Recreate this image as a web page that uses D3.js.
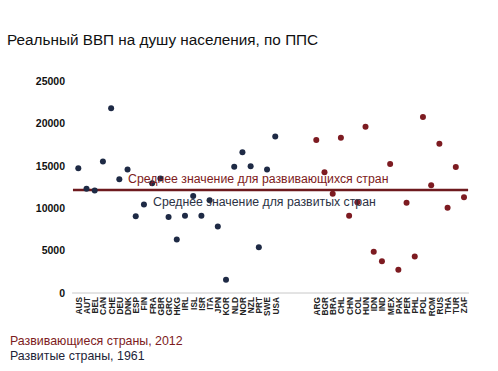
<!DOCTYPE html>
<html>
<head>
<meta charset="utf-8">
<script src="https://cdn.jsdelivr.net/npm/d3@7"></script>
<style>
  body { margin: 0; background: #fff; }
  svg { font-family: "Liberation Sans", Arial, sans-serif; }
  .yaxis text { font-weight: bold; font-size: 10.5px; fill: #111; }
  .xaxis text { font-weight: bold; font-size: 8.3px; fill: #222; }
</style>
</head>
<body>
<div id="vis"></div>
<script>
var developedCodes = ["AUS","AUT","BEL","CAN","CHE","DEU","DNK","ESP","FIN","FRA","GBR","GRC","HKG",
    "IRL","ISL","ISR","ITA","JPN","KOR","NLD","NOR","NZL","PRT","SWE","USA"];
var developedValues = [14700,12300,12100,15500,21800,13400,14550,9050,10450,12950,13500,8950,6300,
    9100,11450,9100,10950,7850,1550,14900,16600,14950,5400,14550,18450];

var developingCodes = ["ARG","BGR","BRA","CHL","CHN","COL","HUN","IDN","IND","MEX","PAK","PER","PHL",
    "POL","ROM","RUS","THA","TUR","ZAF"];
var developingValues = [18050,14250,11700,18300,9100,10700,19600,4850,3750,15200,2750,10650,4300,
    20750,12700,17600,10050,14850,11300];

var yTicks = [0, 5000, 10000, 15000, 20000, 25000];
var meanValue = 12150;

var width = 498, height = 371;
var red = "#7d1b21", navy = "#1e2a45";

var svg = d3.select("#vis").append("svg")
    .attr("width", width)
    .attr("height", height);

// 4 blank slots between the two groups
var gap = ["_1","_2","_3","_4"];
var domain = developedCodes.concat(gap, developingCodes);

var xScale = d3.scalePoint().domain(domain).range([78.3, 464]);
var yScale = d3.scaleLinear().domain([0, 25000]).range([293, 81]);
var step = xScale.step();

svg.append("text")
    .attr("x", 7).attr("y", 45)
    .style("font-size", "15.3px")
    .style("fill", "#111")
    .text("Реальный ВВП на душу населения, по ППС");

var yAxis = d3.axisLeft(yScale).tickValues(yTicks).tickSize(0).tickPadding(0).tickFormat(d3.format("d"));
svg.append("g").attr("class", "yaxis")
    .attr("transform", "translate(65,0)")
    .call(yAxis)
    .call(function(g) { g.select(".domain").remove(); });

var xAxis = d3.axisBottom(xScale)
    .tickValues(developedCodes.concat(developingCodes))
    .tickSize(0).tickPadding(0);
var xg = svg.append("g").attr("class", "xaxis")
    .attr("transform", "translate(0,293)")
    .call(xAxis);
xg.select(".domain").remove();
xg.selectAll("text")
    .attr("transform", "rotate(-90)")
    .attr("x", -4).attr("y", 0).attr("dy", "0.35em")
    .style("text-anchor", "end");

svg.append("line")
    .attr("x1", xScale(domain[0]) - step * 0.75)
    .attr("x2", xScale(domain[domain.length - 1]) + step * 0.6)
    .attr("y1", yScale(0)).attr("y2", yScale(0))
    .attr("stroke", "#c8c8c8").attr("stroke-width", 1);

// mean line
svg.append("line")
    .attr("x1", xScale(domain[0]) - step * 0.65)
    .attr("x2", xScale(domain[domain.length - 1]) + step * 0.5)
    .attr("y1", yScale(meanValue)).attr("y2", yScale(meanValue))
    .attr("stroke", "#6e1a1e").attr("stroke-width", 2.5);

svg.append("g").selectAll("circle.dev")
    .data(developedCodes)
    .enter().append("circle")
    .attr("cx", function(d) { return xScale(d); })
    .attr("cy", function(d, i) { return yScale(developedValues[i]); })
    .attr("r", 3)
    .attr("fill", navy);

svg.append("g").selectAll("circle.emg")
    .data(developingCodes)
    .enter().append("circle")
    .attr("cx", function(d) { return xScale(d); })
    .attr("cy", function(d, i) { return yScale(developingValues[i]); })
    .attr("r", 3)
    .attr("fill", red);

svg.append("text")
    .attr("x", 128).attr("y", yScale(meanValue) - 7)
    .style("font-size", "12.3px").style("fill", red)
    .text("Среднее значение для развивающихся стран");

svg.append("text")
    .attr("x", 153).attr("y", yScale(meanValue) + 16.5)
    .style("font-size", "12.3px").style("fill", "#2b3245")
    .text("Среднее значение для развитых стран");

svg.append("text")
    .attr("x", 10).attr("y", 345)
    .style("font-size", "12.4px").style("fill", red)
    .text("Развивающиеся страны, 2012");

svg.append("text")
    .attr("x", 10).attr("y", 360)
    .style("font-size", "12.4px").style("fill", "#1e2438")
    .text("Развитые страны, 1961");
</script>
</body>
</html>
